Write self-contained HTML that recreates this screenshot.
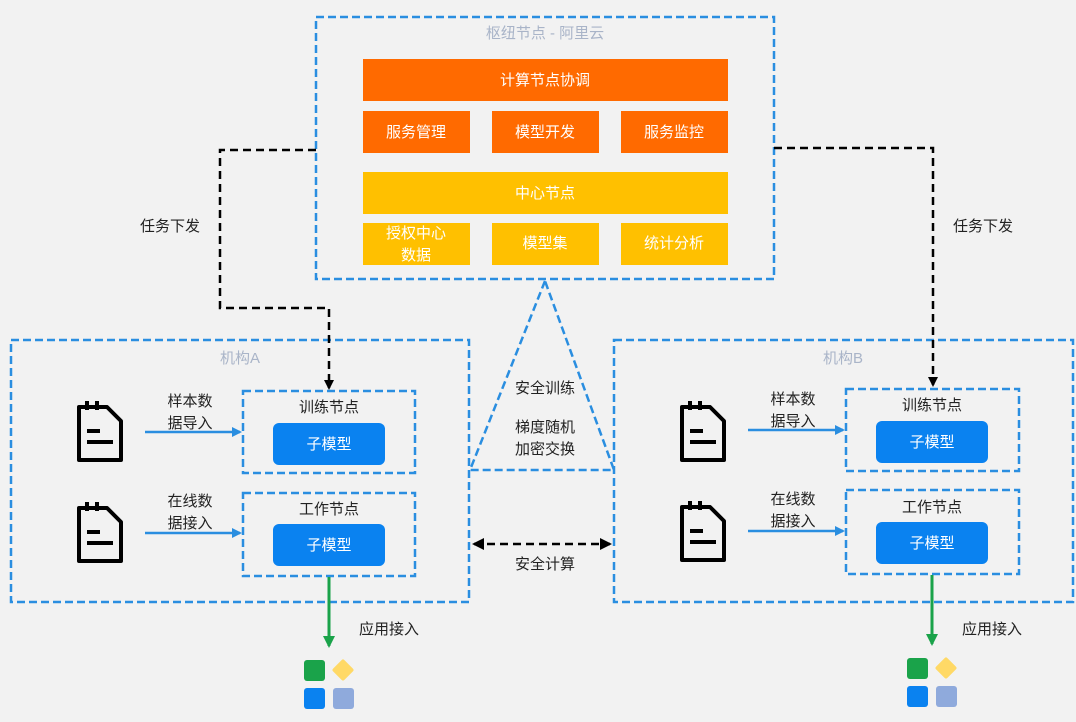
<!DOCTYPE html>
<html><head><meta charset="utf-8"><style>
body{margin:0;width:1076px;height:717px;background:#f2f2f2;overflow:hidden;font-family:"Liberation Sans","Noto Sans CJK SC",sans-serif;}
</style></head><body>
<svg width="1076" height="717" viewBox="0 0 1076 717" xmlns="http://www.w3.org/2000/svg" font-family="Liberation Sans, Noto Sans CJK SC, sans-serif">
<defs>
<marker id="ab" markerWidth="10" markerHeight="10" refX="8" refY="5" orient="auto" markerUnits="userSpaceOnUse"><path d="M0,0 L10,5 L0,10 z" fill="#000"/></marker>
<marker id="abl" markerWidth="10" markerHeight="10" refX="8" refY="5" orient="auto" markerUnits="userSpaceOnUse"><path d="M0,0 L10,5 L0,10 z" fill="#2a8ee0"/></marker>
<marker id="ag" markerWidth="12" markerHeight="12" refX="10" refY="6" orient="auto" markerUnits="userSpaceOnUse"><path d="M0,0 L12,6 L0,12 z" fill="#1aa34a"/></marker>
<marker id="abs" markerWidth="12" markerHeight="12" refX="10" refY="6" orient="auto-start-reverse" markerUnits="userSpaceOnUse"><path d="M0,0 L12,6 L0,12 z" fill="#000"/></marker>
</defs>
<g fill="none" stroke="#2a8ee0" stroke-width="2.5" stroke-dasharray="8,4">
<rect x="316" y="17" width="458" height="262"/>
<rect x="11" y="340" width="458" height="262"/>
<rect x="614" y="340" width="459" height="262"/>
<rect x="243" y="391" width="172" height="82"/>
<rect x="243" y="493" width="172" height="83"/>
<rect x="846" y="389" width="173" height="82"/>
<rect x="846" y="490" width="173" height="84"/>
<path d="M545,281 L470,470 L614,470 Z"/>
</g>
<g font-size="15" fill="#fff" text-anchor="middle">
<rect x="363" y="59" width="365" height="42" fill="#ff6a00"/><text x="545" y="85">计算节点协调</text>
<rect x="363" y="111" width="107" height="42" fill="#ff6a00"/><text x="416" y="137">服务管理</text>
<rect x="492" y="111" width="107" height="42" fill="#ff6a00"/><text x="545" y="137">模型开发</text>
<rect x="621" y="111" width="107" height="42" fill="#ff6a00"/><text x="674" y="137">服务监控</text>
<rect x="363" y="172" width="365" height="42" fill="#ffc000"/><text x="545" y="198">中心节点</text>
<rect x="363" y="223" width="107" height="42" fill="#ffc000"/><text x="416" y="238">授权中心</text><text x="416" y="260">数据</text>
<rect x="492" y="223" width="107" height="42" fill="#ffc000"/><text x="545" y="248">模型集</text>
<rect x="621" y="223" width="107" height="42" fill="#ffc000"/><text x="674" y="248">统计分析</text>
<rect x="273" y="423" width="112" height="42" rx="6" fill="#0a82f0"/><text x="329" y="449">子模型</text>
<rect x="273" y="524" width="112" height="42" rx="6" fill="#0a82f0"/><text x="329" y="550">子模型</text>
<rect x="876" y="421" width="112" height="42" rx="6" fill="#0a82f0"/><text x="932" y="447">子模型</text>
<rect x="876" y="522" width="112" height="42" rx="6" fill="#0a82f0"/><text x="932" y="548">子模型</text>
</g>
<g font-size="15" fill="#a9b4c8" text-anchor="middle">
<text x="545" y="38">枢纽节点 - 阿里云</text>
<text x="240" y="363">机构A</text>
<text x="843" y="363">机构B</text>
</g>
<g font-size="15" fill="#222" text-anchor="middle">
<text x="329" y="412">训练节点</text>
<text x="329" y="514">工作节点</text>
<text x="932" y="410">训练节点</text>
<text x="932" y="512">工作节点</text>
<text x="190" y="406">样本数</text><text x="190" y="428">据导入</text>
<text x="190" y="506">在线数</text><text x="190" y="528">据接入</text>
<text x="793" y="404">样本数</text><text x="793" y="426">据导入</text>
<text x="793" y="504">在线数</text><text x="793" y="526">据接入</text>
<text x="170" y="231">任务下发</text>
<text x="983" y="231">任务下发</text>
<text x="545" y="393">安全训练</text>
<text x="545" y="432">梯度随机</text>
<text x="545" y="454">加密交换</text>
<text x="545" y="569">安全计算</text>
<text x="389" y="634">应用接入</text>
<text x="992" y="634">应用接入</text>
</g>
<g fill="none" stroke="#000" stroke-width="2.5" stroke-dasharray="8,5">
<path d="M316,150 L220,150 L220,308 L329,308 L329,388" marker-end="url(#ab)"/>
<path d="M774,148 L933,148 L933,385" marker-end="url(#ab)"/>
</g>
<path d="M474,544 L610,544" fill="none" stroke="#000" stroke-width="2.5" stroke-dasharray="8,5" marker-start="url(#abs)" marker-end="url(#abs)"/>
<g stroke="#2a8ee0" stroke-width="2.5">
<line x1="145" y1="432" x2="240" y2="432" marker-end="url(#abl)"/>
<line x1="145" y1="533" x2="240" y2="533" marker-end="url(#abl)"/>
<line x1="748" y1="430" x2="843" y2="430" marker-end="url(#abl)"/>
<line x1="748" y1="531" x2="843" y2="531" marker-end="url(#abl)"/>
</g>
<g stroke="#1aa34a" stroke-width="3">
<line x1="329" y1="577" x2="329" y2="646" marker-end="url(#ag)"/>
<line x1="932" y1="575" x2="932" y2="644" marker-end="url(#ag)"/>
</g>
<g id="doc" fill="none" stroke="#000" stroke-width="4" stroke-linejoin="round">
<path d="M79,407 L107,407 L121,421 L121,460 L79,460 Z"/>
<line x1="87" y1="401" x2="87" y2="410"/><line x1="97" y1="401" x2="97" y2="410"/>
<line x1="87" y1="431" x2="100" y2="431"/><line x1="87" y1="442" x2="113" y2="442"/>
</g>
<use href="#doc" x="0" y="101"/>
<use href="#doc" x="603" y="0"/>
<use href="#doc" x="603" y="100"/>
<g id="app">
<rect x="304" y="660" width="21" height="21" rx="3" fill="#1aa34a"/>
<rect x="335" y="662" width="16" height="16" rx="2" fill="#ffd966" transform="rotate(45 343 670)"/>
<rect x="304" y="688" width="21" height="21" rx="3" fill="#0a82f0"/>
<rect x="333" y="688" width="21" height="21" rx="3" fill="#8faadc"/>
</g>
<use href="#app" x="603" y="-2"/>
</svg>
</body></html>
